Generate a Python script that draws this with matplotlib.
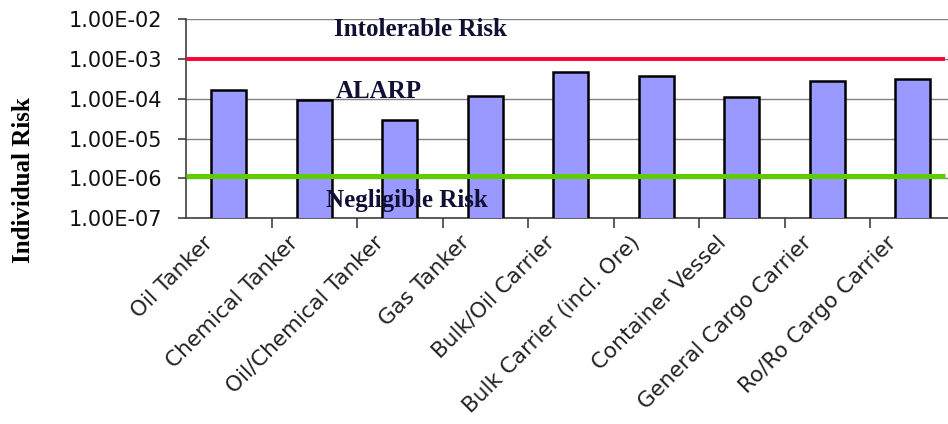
import numpy as np
import matplotlib
matplotlib.use("Agg")
import matplotlib.pyplot as plt
import matplotlib.transforms as mtransforms

# ship types and individual risk
ship_types = ['Oil Tanker', 'Chemical Tanker', 'Oil/Chemical Tanker', 'Gas Tanker',
              'Bulk/Oil Carrier', 'Bulk Carrier (incl. Ore)', 'Container Vessel',
              'General Cargo Carrier', 'Ro/Ro Cargo Carrier']
risk = [1.68e-4, 9.2e-5, 2.95e-5, 1.17e-4, 4.6e-4, 3.65e-4, 1.1e-4, 2.83e-4, 3.2e-4]

intolerable = 1.0e-3
negligible = 1.15e-6

ytick_vals = [1e-7, 1e-6, 1e-5, 1e-4, 1e-3, 1e-2]
ytick_labels = ['1.00E-07', '1.00E-06', '1.00E-05', '1.00E-04', '1.00E-03', '1.00E-02']

W, H = 948, 424
fig = plt.figure(figsize=(W / 100, H / 100), dpi=100)
# plot area runs a bit past the right edge, like the original
ax = fig.add_axes([186 / W, 1 - 218.3 / H, 769.5 / W, 199.3 / H])

x = np.arange(len(ship_types))
ax.bar(x, risk, width=0.41, color='#9999ff', edgecolor='black', linewidth=1.8, zorder=3)

ax.set_yscale('log')
ax.set_ylim(1e-7, 1e-2)
ax.set_xlim(-0.5, len(ship_types) - 0.5)
ax.set_yticks(ytick_vals)
ax.set_yticklabels(ytick_labels, fontsize=15, family='DejaVu Sans', color='#111111')
ax.minorticks_off()
ax.yaxis.grid(True, color='#808080', linewidth=1.0, zorder=0)

# category boundaries as ticks on the x axis
ax.set_xticks(x[:-1] + 0.5, minor=True)
ax.set_xticks(x)
ax.set_xticklabels(ship_types, rotation=45, ha='right', fontsize=15.5,
                   family='DejaVu Sans', color='#222222')
ax.tick_params(axis='x', which='major', length=0, pad=10)
ax.tick_params(axis='x', which='minor', length=7, color='#404040', width=1.2)
ax.tick_params(axis='y', length=6, color='#404040', width=1.2, pad=11)

# nudge the slanted labels a little to the left
shift = mtransforms.ScaledTranslation(-0.12, 0, fig.dpi_scale_trans)
for lbl in ax.get_xticklabels():
    lbl.set_transform(lbl.get_transform() + shift)

for s in ['top', 'right']:
    ax.spines[s].set_visible(False)
for s in ['left', 'bottom']:
    ax.spines[s].set_color('#404040')
    ax.spines[s].set_linewidth(1.2)

xend = -0.5 + (945 - 186) / 85.5
ax.hlines(intolerable, -0.5, xend, color='#ff0033', linewidth=2.8, zorder=4)
ax.hlines(negligible, -0.5, xend, color='#5fcc00', linewidth=3.6, zorder=4)

label_kw = dict(family='Liberation Serif', fontweight='bold', fontsize=18,
                color='#101035', ha='center', va='center', zorder=6)
fig.text(420.5 / W, 1 - 29 / H, 'Intolerable Risk', **label_kw)
fig.text(379 / W, 1 - 91 / H, 'ALARP', **label_kw)
fig.text(406.5 / W, 1 - 201 / H, 'Negligible Risk', **label_kw)

fig.text(24 / W, 1 - 180 / H, 'Individual Risk', rotation=90, ha='center', va='center',
         family='Liberation Serif', fontweight='bold', fontsize=18, color='black')

fig.savefig('out.png', dpi=100)
